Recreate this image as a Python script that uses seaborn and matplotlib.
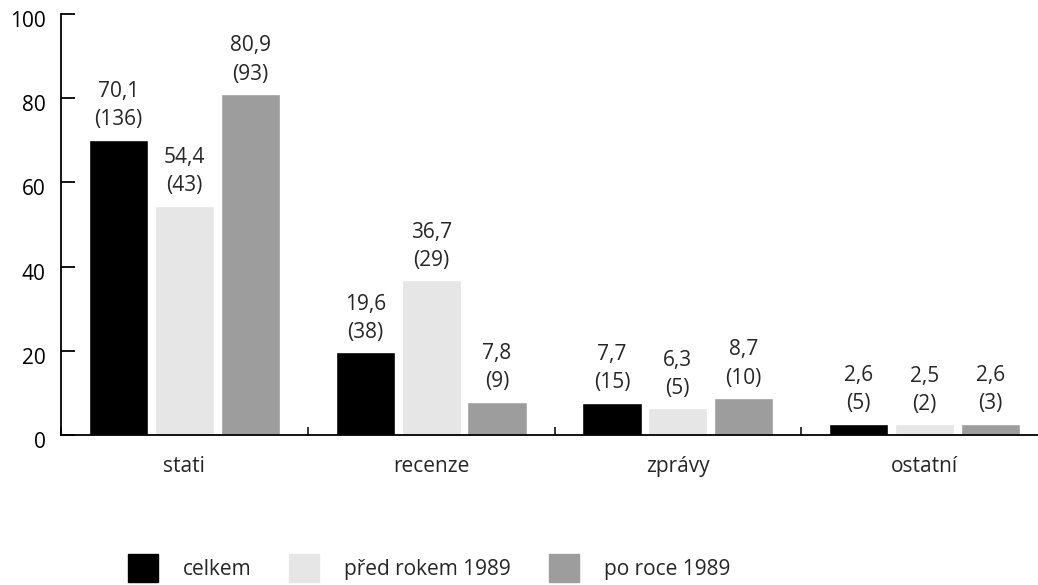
import matplotlib
matplotlib.use("Agg")
import pandas as pd
import matplotlib.pyplot as plt
import matplotlib.patches as mpatches
import matplotlib.transforms as mtransforms
import seaborn as sns

# data
categories = ["stati", "recenze", "zprávy", "ostatní"]
series = ["celkem", "před rokem 1989", "po roce 1989"]
share_celkem = [70.1, 19.6, 7.7, 2.6]
share_pred = [54.4, 36.7, 6.3, 2.5]
share_po = [80.9, 7.8, 8.7, 2.6]
count_celkem = [136, 38, 15, 5]
count_pred = [43, 29, 5, 2]
count_po = [93, 9, 10, 3]
colors = ["#000000", "#e6e6e6", "#9d9d9d"]

shares = [share_celkem, share_pred, share_po]
counts = [count_celkem, count_pred, count_po]

rows = []
for s, vals in zip(series, shares):
    for c, v in zip(categories, vals):
        rows.append({"kategorie": c, "skupina": s, "podil": v})
df = pd.DataFrame(rows)

fs = 15

sns.set_style("white")
plt.rcParams["font.family"] = ["Open Sans", "DejaVu Sans"]
plt.rcParams["font.size"] = fs

fig = plt.figure(figsize=(10.38, 5.85), dpi=100)
ax = fig.add_axes([61 / 1038, 150 / 585, 987 / 1038, 421 / 585])

sns.barplot(data=df, x="kategorie", y="podil", hue="skupina",
            order=categories, hue_order=series, palette=colors,
            width=0.8, gap=0.1, saturation=1, legend=False, ax=ax)

# labels above bars
for cont, vals, cnts in zip(ax.containers, shares, counts):
    labels = [f"{v:.1f}".replace(".", ",") + f"\n({n})" for v, n in zip(vals, cnts)]
    texts = ax.bar_label(cont, labels=labels, padding=7, fontsize=fs)
    for t in texts:
        t.set_linespacing(1.45)

ax.set_ylim(0, 100)
ax.set_xlim(-0.5, 3.5)
ax.set_yticks(range(0, 101, 20))
ax.set_xlabel("")
ax.set_ylabel("")

for side in ["top", "right"]:
    ax.spines[side].set_visible(False)
for side in ["left", "bottom"]:
    ax.spines[side].set_linewidth(1.3)
    ax.spines[side].set_color("black")

ax.tick_params(axis="y", direction="in", length=10, width=1.3, pad=11,
               labelsize=fs, colors="black", left=True)
ax.tick_params(axis="x", which="major", length=0, pad=15, labelsize=fs)
ax.set_xticks([-0.5, 0.5, 1.5, 2.5, 3.5], minor=True)
ax.tick_params(axis="x", which="minor", direction="in", length=6, width=1.3,
               bottom=True)

shift = mtransforms.ScaledTranslation(0, -5 / 100, fig.dpi_scale_trans)
for lab in ax.get_yticklabels():
    lab.set_transform(lab.get_transform() + shift)

handles = [mpatches.Patch(color=c, label=s) for c, s in zip(colors, series)]
fig.legend(handles=handles, loc="center", bbox_to_anchor=(429 / 1038, 1 - 568 / 585),
           ncol=3, frameon=False, fontsize=fs, handlelength=1.45, handleheight=1.75,
           handletextpad=1.2, columnspacing=1.8)

fig.savefig("out.png", dpi=100)
